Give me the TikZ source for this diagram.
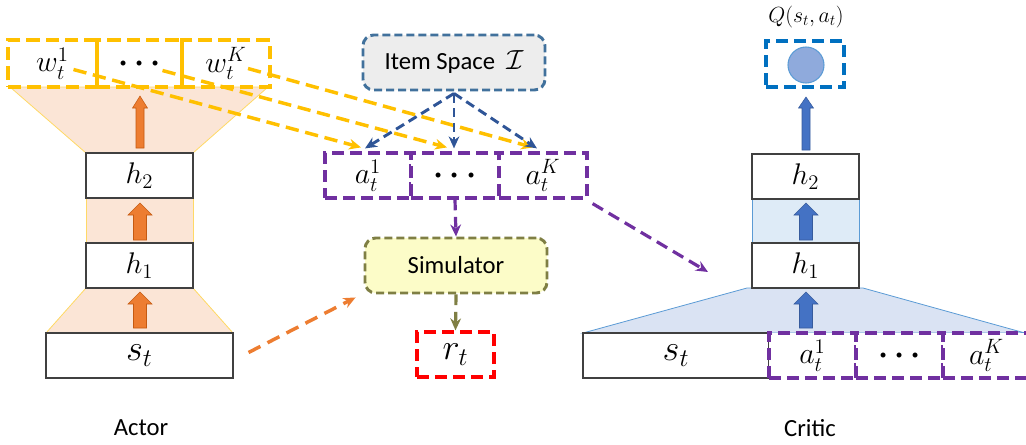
\documentclass[tikz,border=0pt]{standalone}
\usepackage{fontspec}
\usepackage{graphicx}
\newfontfamily\carl{Carlito}
\usetikzlibrary{arrows.meta}
\definecolor{wyel}{HTML}{FFC000}
\definecolor{peach}{HTML}{FBE5D6}
\definecolor{peachedge}{HTML}{FFD966}
\definecolor{oarr}{HTML}{ED7D31}
\definecolor{oarredge}{HTML}{C55A11}
\definecolor{purp}{HTML}{7030A0}
\definecolor{dblue}{HTML}{2F5597}
\definecolor{itemedge}{HTML}{41719C}
\definecolor{itemfill}{HTML}{EDEDED}
\definecolor{simfill}{HTML}{FCFCC8}
\definecolor{olive}{HTML}{7F7F44}
\definecolor{qblue}{HTML}{0070C0}
\definecolor{circfill}{HTML}{8FAADC}
\definecolor{circedge}{HTML}{5B9BD5}
\definecolor{barr}{HTML}{4472C4}
\definecolor{lbluefill}{HTML}{DEEBF7}
\definecolor{trapblue}{HTML}{DAE3F3}
\definecolor{boxedge}{HTML}{404040}
\newcommand\mth[1]{\scalebox{1.08}{$#1$}}
\newcommand\mthL[1]{\scalebox{1.32}{$#1$}}
\newcommand\bdots{\scalebox{1.15}{\boldmath$\cdots$}}
\newcommand\blockarrow[7]{%
  \path[#7] (#1-#4,#2) -- (#1-#4,#3+#6) -- (#1-#5,#3+#6) -- (#1,#3) --
    (#1+#5,#3+#6) -- (#1+#4,#3+#6) -- (#1+#4,#2) -- cycle;}
\begin{document}
\begin{tikzpicture}[x=0.75pt,y=-0.75pt,
  bw/.style={minimum width=#1*0.75pt},
  bh/.style={minimum height=#1*0.75pt},
  mfont/.style={font=\fontsize{20.74}{25}\selectfont},
  layerbox/.style={draw=boxedge, line width=0.8pt, fill=white, inner sep=0pt, mfont},
  ybox/.style={draw=wyel, line width=3pt, dash pattern=on 10pt off 4.5pt, inner sep=0pt, mfont},
  pbox/.style={draw=purp, line width=2.4pt, dash pattern=on 9pt off 4.5pt, fill=white, inner sep=0pt, mfont},
  itembox/.style={draw=itemedge, fill=itemfill, line width=2.2pt, dash pattern=on 6pt off 3pt, rounded corners=8pt, inner sep=0pt, font=\carl\fontsize{18.5}{22}\selectfont},
  simbox/.style={draw=olive, fill=simfill, line width=2.2pt, dash pattern=on 6pt off 3pt, rounded corners=8pt, inner sep=0pt, font=\carl\fontsize{18.5}{22}\selectfont},
  rbox/.style={draw=red, line width=2.4pt, dash pattern=on 9pt off 4.5pt, inner sep=0pt, mfont},
  qbox/.style={draw=qblue, line width=2.4pt, dash pattern=on 9pt off 4.5pt, inner sep=0pt},
  yarr/.style={draw=wyel, line width=2.6pt, dash pattern=on 10pt off 5pt, -{Stealth[length=9pt,width=8pt]}},
  barrow/.style={draw=dblue, line width=2.2pt, dash pattern=on 7pt off 4pt, -{Stealth[length=9pt,width=8pt]}},
  parr/.style={draw=purp, line width=2.4pt, dash pattern=on 9pt off 5pt, -{Stealth[length=9pt,width=8pt]}},
  oliarr/.style={draw=olive, line width=2.4pt, dash pattern=on 8pt off 5pt, -{Stealth[length=9pt,width=8pt]}},
  orarr/.style={draw=oarr, line width=2.6pt, dash pattern=on 10pt off 6pt, -{Stealth[length=9pt,width=8pt]}},
  lbl/.style={font=\carl\fontsize{18.5}{22}\selectfont}
]
\useasboundingbox (0,0) rectangle (1026,444);

% ---------------- Actor ----------------
\path[fill=peach, draw=peachedge, line width=0.6pt] (10,87) -- (268,87) -- (193,153) -- (86,153) -- cycle;
\path[fill=peach, draw=peachedge, line width=0.6pt] (86,198) rectangle (193,243);
\path[fill=peach, draw=peachedge, line width=0.6pt] (86,288) -- (193,288) -- (233,333) -- (46,333) -- cycle;

\node[ybox, bw=89, bh=47] (w1) at (52.5,63.5) {\mth{w_t^1}};
\node[ybox, bw=85, bh=47] (wd) at (139.5,63.5) {\bdots};
\node[ybox, bw=88, bh=47] (wK) at (226,63.5) {\mth{w_t^K}};

\node[layerbox, bw=107, bh=45] (ah2) at (139.5,175.5) {\mth{h_2}};
\node[layerbox, bw=107, bh=45] (ah1) at (139.5,265.5) {\mth{h_1}};
\node[layerbox, bw=187, bh=45] (ast) at (139.5,355.5) {\mthL{s_t}};

\blockarrow{140}{148}{96}{4}{7.5}{12}{fill=oarr, draw=oarredge, line width=0.4pt}
\blockarrow{140}{240}{203}{6.5}{12}{12}{fill=oarr, draw=oarredge, line width=0.4pt}
\blockarrow{140}{328}{292}{6.5}{12}{12}{fill=oarr, draw=oarredge, line width=0.4pt}

\node[lbl] (actor) at (141,428) {Actor};

% ---------------- Middle ----------------
\node[itembox, bw=182, bh=55] (item) at (454,62.5) {Item Space\ \ {\fontsize{20.74}{24}\selectfont$\mathcal{I}$}};

\node[pbox, bw=86, bh=45] (a1) at (368,175.5) {\mth{a_t^1}};
\node[pbox, bw=88, bh=45] (ad) at (455,175.5) {\bdots};
\node[pbox, bw=88, bh=45] (aK) at (543,175.5) {\mth{a_t^K}};

\node[simbox, bw=182, bh=55] (sim) at (456,265.5) {Simulator};
\node[rbox, bw=77, bh=45] (rt) at (455.5,354.5) {\mthL{r_t}};

% yellow weight arrows
\draw[yarr] ([shift={(21,6)}]w1.center) -- ([shift={(-7,-4)}]a1.north);
\draw[yarr] ([shift={(23,7)}]wd.center) -- ([shift={(-8,-4)}]ad.north);
\draw[yarr] ([shift={(22,5)}]wK.center) -- ([shift={(-10,-4)}]aK.north);

% item space arrows
\draw[barrow] ([shift={(0,2)}]item.south) -- ([shift={(-3,-3)}]a1.north);
\draw[barrow] ([shift={(0,2)}]item.south) -- ([shift={(-1,-3)}]ad.north);
\draw[barrow] ([shift={(0,2)}]item.south) -- ([shift={(-6,-3)}]aK.north);

\draw[parr, dash pattern=on 8pt off 5pt] (ad.south) -- (sim.north);
\draw[oliarr] (sim.south) -- (rt.north);
\draw[orarr] ([shift={(15,-3)}]ast.east) -- ([shift={(-8,3)}]sim.south west);

% ---------------- Critic ----------------
\path[fill=trapblue, draw=circedge, line width=0.6pt] (747,288) -- (863,288) -- (1025,333) -- (583,333) -- cycle;
\path[fill=lbluefill, draw=circedge, line width=0.6pt] (752,199) rectangle (859,243);

\node[layerbox, bw=107, bh=45] (ch2) at (805.5,176.5) {\mth{h_2}};
\node[layerbox, bw=107, bh=45] (ch1) at (805.5,265.5) {\mth{h_1}};
\node[layerbox, bw=186, bh=45] (cst) at (676,355.5) {\mthL{s_t}};
\node[pbox, bw=87, bh=45] (ca1) at (812.5,355.5) {\mth{a_t^1}};
\node[pbox, bw=87, bh=45] (cad) at (899.5,355.5) {\bdots};
\node[pbox, bw=87, bh=45] (caK) at (986.5,355.5) {\mth{a_t^K}};

\node[qbox, bw=78, bh=46] (qb) at (805,64) {};
\node[circle, fill=circfill, draw=circedge, line width=0.8pt, minimum size=36*0.75pt, inner sep=0pt] (qc) at (806,65) {};
\node[font=\fontsize{17.28}{20}\selectfont] (qlab) at (806,17) {\scalebox{0.95}{$Q(s_t,a_t)$}};

\blockarrow{806}{150}{97}{4}{7.5}{11}{fill=barr, draw=barr!80!black, line width=0.4pt}
\blockarrow{806}{240}{203}{6.5}{12}{12}{fill=barr, draw=barr!80!black, line width=0.4pt}
\blockarrow{806}{328}{292}{6.5}{12}{12}{fill=barr, draw=barr!80!black, line width=0.4pt}

\coordinate (ptip) at (708,272);
\draw[parr] ([shift={(4,4)}]aK.south east) -- (ptip);

\node[lbl] (critic) at (810,428) {Critic};
\end{tikzpicture}
\end{document}
